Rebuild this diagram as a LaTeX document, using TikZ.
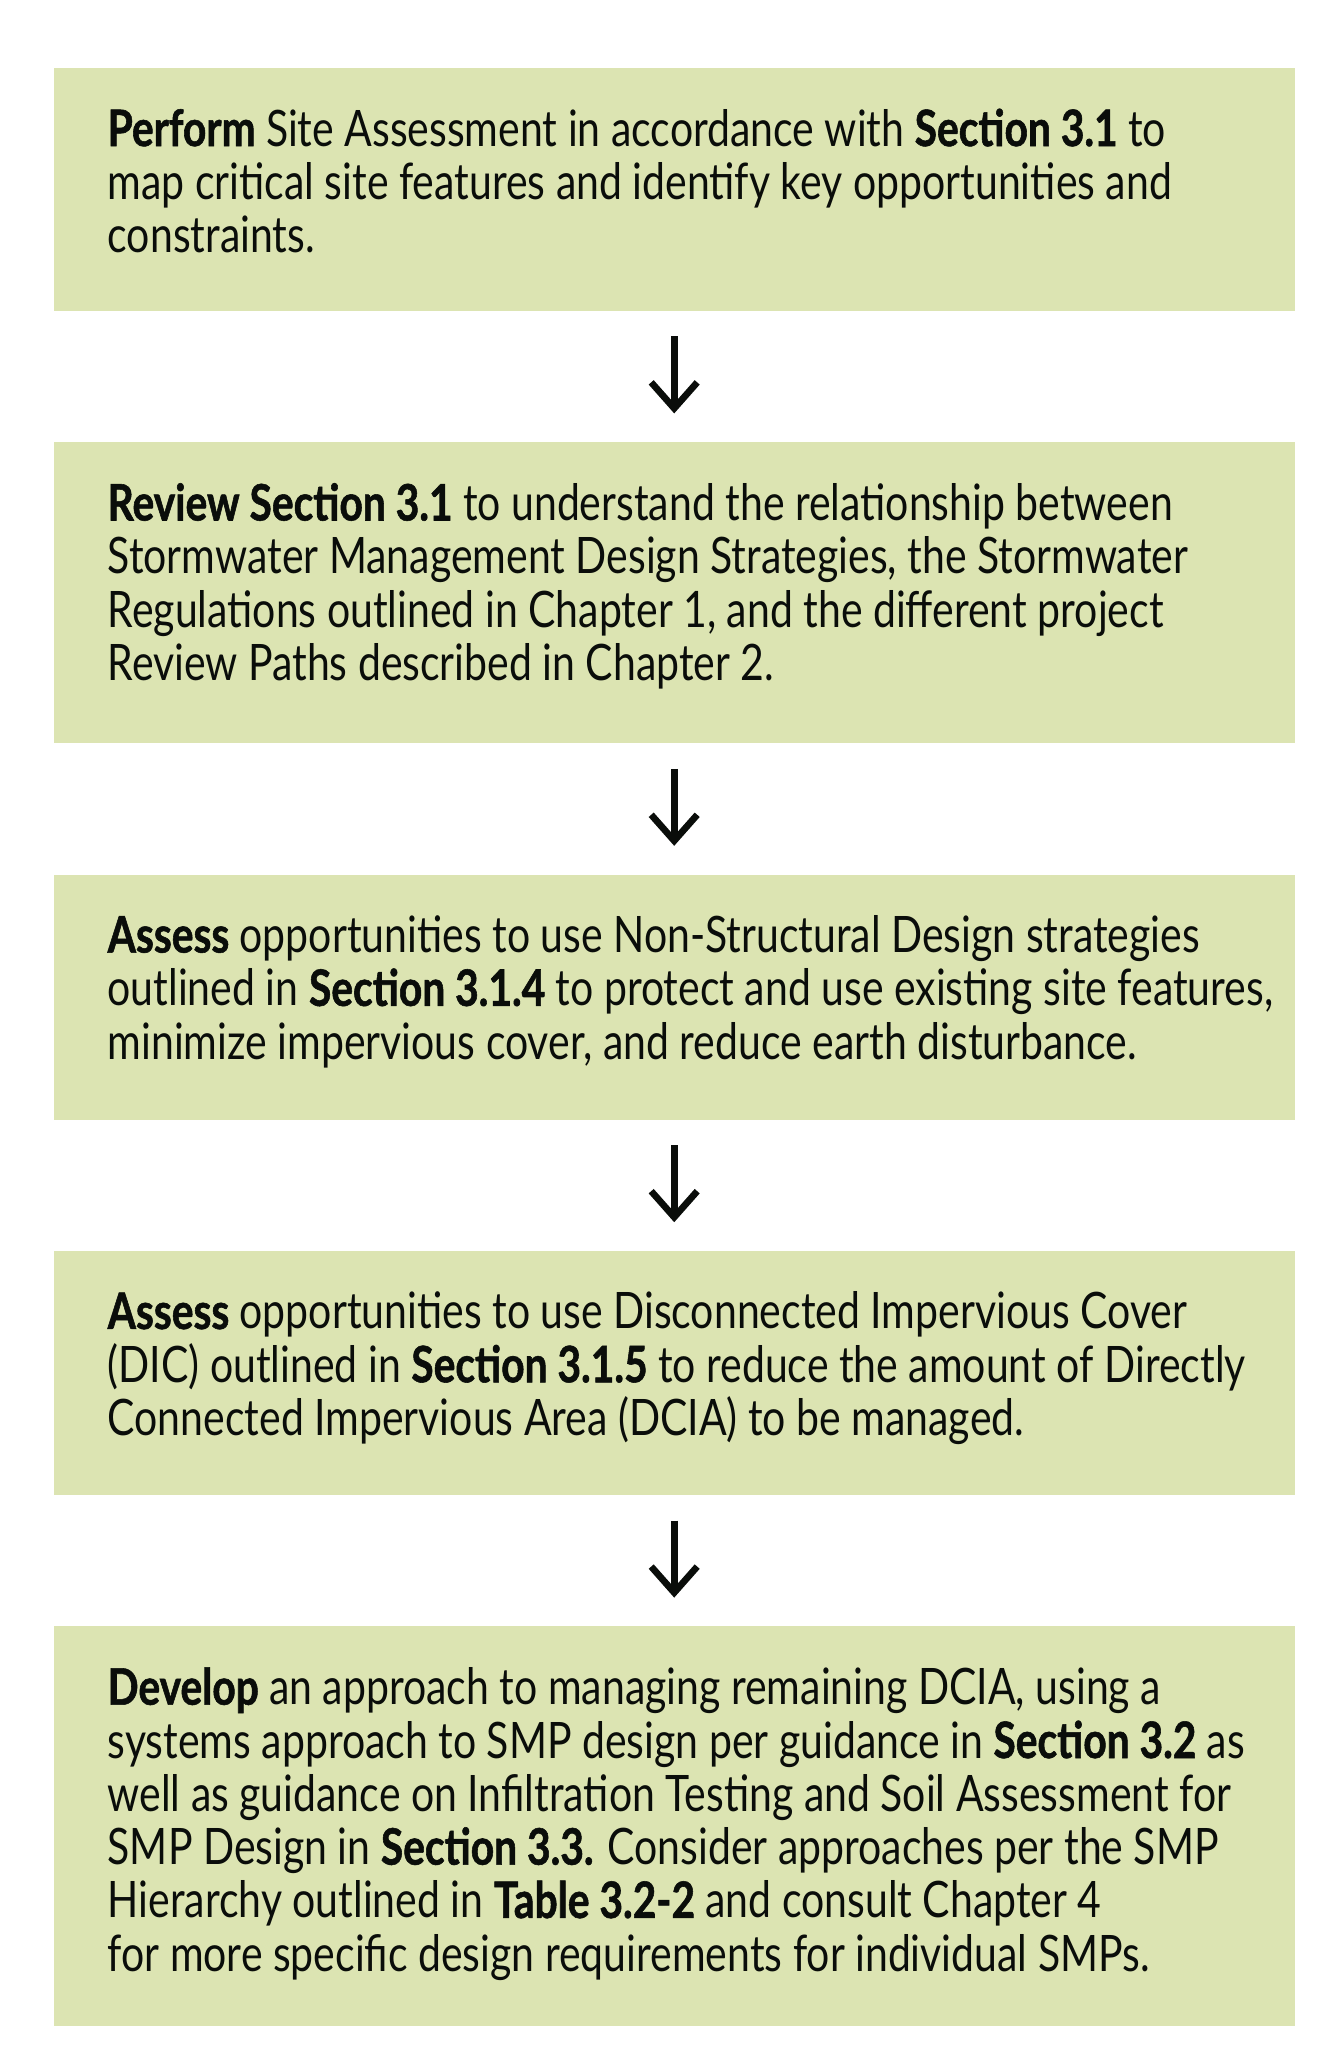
\documentclass[tikz,border=0pt]{standalone}
\usepackage{fontspec}
\setmainfont{Lato}[FakeStretch=0.815, BoldFeatures={FakeStretch=0.81, FakeBold=1.1}]
\usepackage{tikz}
\usetikzlibrary{positioning}
\usetikzlibrary{arrows.meta}
\definecolor{stepgreen}{HTML}{DCE4B2}
\definecolor{steptextcol}{HTML}{0A0D0A}

\tikzset{
  stepbox/.style={fill=stepgreen, minimum width=124.1mm, inner sep=0pt},
  steptext/.style={anchor=north west, align=left, inner sep=0pt, text=steptextcol,
                   font=\fontsize{14.3}{15.17}\selectfont},
  flow/.style={line width=0.67mm, -{Straight Barb[length=2.6mm, width=4.6mm]},
               shorten <=2.5mm, shorten >=2.8mm, color=steptextcol}
}

\begin{document}
\begin{tikzpicture}
  \useasboundingbox (0,0) rectangle (134.1mm,-206.6mm);

  % the five steps
  \node[stepbox, minimum height=24.3mm, anchor=north west] (b1) at (5.3mm,-6.7mm) {};
  \node[stepbox, minimum height=30.1mm, below=13mm of b1] (b2) {};
  \node[stepbox, minimum height=24.5mm, below=13mm of b2] (b3) {};
  \node[stepbox, minimum height=24.4mm, below=13mm of b3] (b4) {};
  \node[stepbox, minimum height=40.0mm, below=13mm of b4] (b5) {};

  \node[steptext] (t1) at ([xshift=5.4mm, yshift=-4.1mm]b1.north west)
    {\textbf{Perform} Site Assessment in accordance with \textbf{Section 3.1} to\\
     map critical site features and identify key opportunities and\\
     constraints.};
  \node[steptext] (t2) at ([xshift=5.4mm, yshift=-4.1mm]b2.north west)
    {\textbf{Review Section 3.1} to understand the relationship between\\
     Stormwater Management Design Strategies, the Stormwater\\
     Regulations outlined in Chapter 1, and the different project\\
     Review Paths described in Chapter 2.};
  \node[steptext] (t3) at ([xshift=5.4mm, yshift=-4.1mm]b3.north west)
    {\textbf{Assess} opportunities to use Non-Structural Design strategies\\
     outlined in \textbf{Section 3.1.4} to protect and use existing site features,\\
     minimize impervious cover, and reduce earth disturbance.};
  \node[steptext] (t4) at ([xshift=5.4mm, yshift=-4.1mm]b4.north west)
    {\textbf{Assess} opportunities to use Disconnected Impervious Cover\\
     (DIC) outlined in \textbf{Section 3.1.5} to reduce the amount of Directly\\
     Connected Impervious Area (DCIA) to be managed.};
  \node[steptext] (t5) at ([xshift=5.4mm, yshift=-4.1mm]b5.north west)
    {\textbf{Develop} an approach to managing remaining DCIA, using a\\
     systems approach to SMP design per guidance in \textbf{Section 3.2} as\\
     well as guidance on Infiltration Testing and Soil Assessment for\\
     SMP Design in \textbf{Section 3.3.} Consider approaches per the SMP\\
     Hierarchy outlined in \textbf{Table 3.2-2} and consult Chapter 4\\
     for more specific design requirements for individual SMPs.};

  % arrows between the steps
  \draw[flow] (b1.south) -- (b2.north);
  \draw[flow] (b2.south) -- (b3.north);
  \draw[flow] (b3.south) -- (b4.north);
  \draw[flow] (b4.south) -- (b5.north);
\end{tikzpicture}
\end{document}
